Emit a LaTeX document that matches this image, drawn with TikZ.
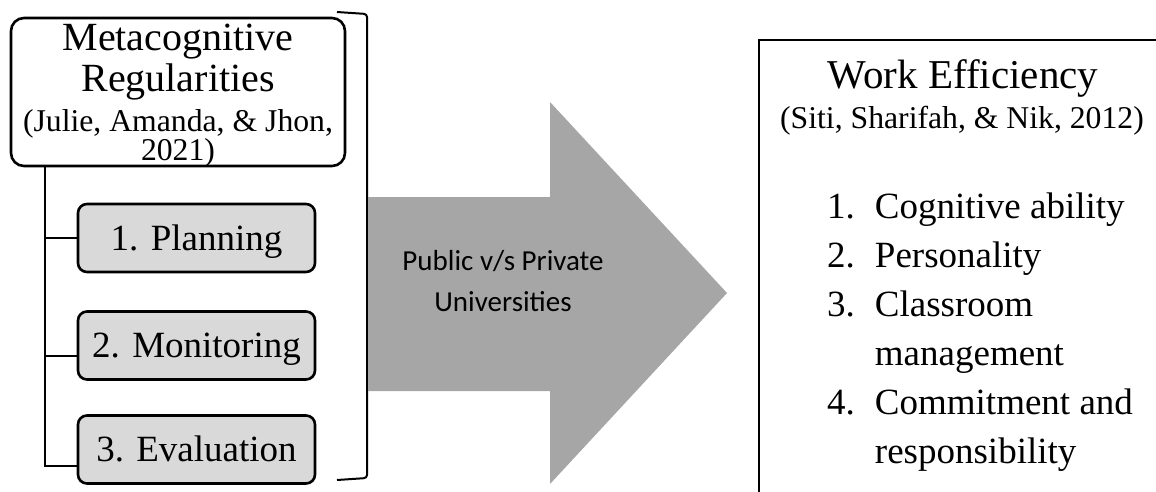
\documentclass[tikz,border=0pt]{standalone}
\usepackage{fontspec}
\setmainfont{Liberation Serif}
\newfontfamily\calibri{Carlito}
\usepackage{tikz}
\usetikzlibrary{positioning, calc}
\definecolor{boxGray}{RGB}{217,217,217}
\definecolor{arrowGray}{RGB}{166,166,166}

\begin{document}
\begin{tikzpicture}[
  x=1pt, y=-1pt,
  headbox/.style={draw, line width=2.6pt, rounded corners=13pt, minimum width=334pt, minimum height=148pt},
  stage/.style={draw, line width=2.6pt, fill=boxGray, rounded corners=9pt,
    minimum width=237pt, minimum height=68pt, font=\fontsize{37}{44}\selectfont,
    text height=24pt, text depth=0pt},
  big/.style={anchor=base, inner sep=0pt, font=\fontsize{40}{43}\selectfont},
  cite/.style={anchor=base, inner sep=0pt, font=\fontsize{31.7}{28}\selectfont},
  wire/.style={line width=2.4pt},
]
  \clip (0,0) rectangle (1156,491);

  % metacognition block
  \node[headbox] (meta) at (178,92) {};
  \node[big]  (metaA) at (178,50)  {Metacognitive};
  \node[big]  (metaB) at (178,91)  {Regularities};
  \node[cite] (metaC) at (178,131) {(Julie, Amanda, \& Jhon,};
  \node[cite] (metaD) at (178,160) {2021)};

  \node[stage] (plan) at (196.5,238)   {1. Planning};
  \node[stage] (mon)  at (196.5,345.5) {2. Monitoring};
  \node[stage] (eval) at (196.5,449.5) {3. Evaluation};

  \coordinate (spine) at (45,466);
  \draw[wire] (meta.south -| spine) -- (spine) -- ([yshift=-16.5pt]eval.west);
  \draw[wire] (plan.west -| spine) -- (plan.west);
  \draw[wire] ([yshift=-10.5pt]mon.west -| spine) -- ([yshift=-10.5pt]mon.west);

  % closing bracket
  \draw[line width=2pt, rounded corners=3pt] (337,12) -- (367,14) -- (367,478) -- (337,480);

  % big arrow
  \fill[arrowGray] (368,197) -- (550,197) -- (550,102) -- (727,293)
    -- (550,484) -- (550,391) -- (368,391) -- cycle;
  \node[font=\calibri\fontsize{29}{41}\selectfont, align=center] (group) at (503,281)
    {Public v/s Private\\Universities};

  % work efficiency block
  \node[draw, line width=2pt, anchor=north west, minimum width=500pt, minimum height=500pt] (work) at (758,39) {};
  \node[big, font=\fontsize{41}{43}\selectfont] (workA) at (963,88) {Work Efficiency};
  \node[cite] (workB) at (962,128) {(Siti, Sharifah, \& Nik, 2012)};
  \node[anchor=base west, inner sep=0pt, font=\fontsize{37}{49}\selectfont] (factors) at (827,218)
    {\begin{tabular}[t]{@{}l@{\hspace{20pt}}l@{}}
      1. & Cognitive ability\\
      2. & Personality\\
      3. & Classroom\\
         & management\\
      4. & Commitment and\\
         & responsibility
    \end{tabular}};
\end{tikzpicture}
\end{document}
